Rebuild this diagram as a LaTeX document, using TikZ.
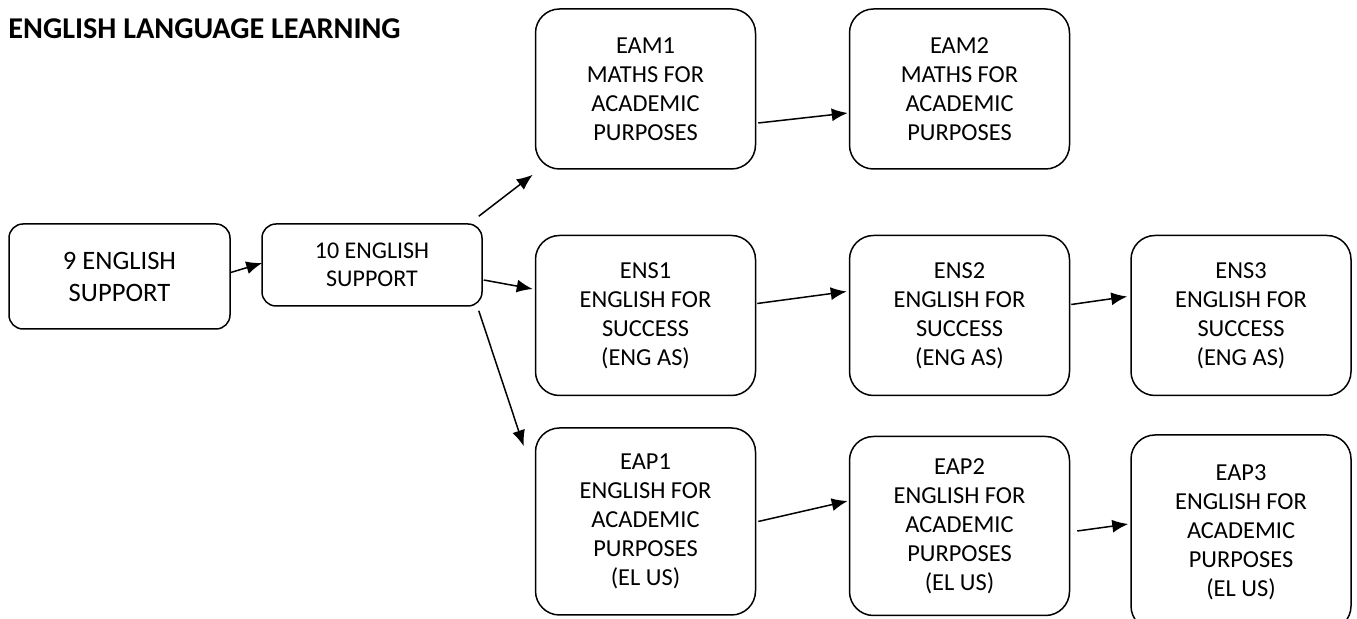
\documentclass[tikz,border=0pt]{standalone}
\usepackage{fontspec}
\setmainfont{Carlito}
\usepackage{tikz}
\usetikzlibrary{arrows.meta}
\usetikzlibrary{calc}

\begin{document}
\begin{tikzpicture}[
  x=0.5pt,y=-0.5pt,
  ->,>={Latex[length=8pt,width=6.5pt]},line width=0.75pt,
  course/.style={draw,rectangle,rounded corners=12pt,minimum width=110pt,minimum height=80pt,align=center,inner sep=0pt,font=\fontsize{12.2}{14.5}\selectfont},
  support/.style={course,rounded corners=7pt,minimum width=110.5pt}]
      \useasboundingbox (0,0) rectangle (1357,619);

      \node [anchor=west,font=\bfseries\fontsize{15.1}{18}\selectfont] (title) at (1,29) {ENGLISH LANGUAGE LEARNING};

      % year 9 and 10
      \node [support,minimum height=52.5pt,font=\fontsize{13.3}{16}\selectfont] (nine) at (119.5,276.5) {9 ENGLISH\\SUPPORT};
      \node [support,minimum height=41pt,minimum width=110pt,font=\fontsize{12}{14}\selectfont] (ten) at (372,265) {10 ENGLISH\\SUPPORT};

      % maths row
      \node [course] (eam1) at (645.5,89) {EAM1\\MATHS FOR\\ACADEMIC\\PURPOSES};
      \node [course] (eam2) at (959.5,89) {EAM2\\MATHS FOR\\ACADEMIC\\PURPOSES};

      % success row
      \node [course] (ens1) at (645.5,315.5) {ENS1\\ENGLISH FOR\\SUCCESS\\(ENG AS)};
      \node [course] (ens2) at (959.5,315.5) {ENS2\\ENGLISH FOR\\SUCCESS\\(ENG AS)};
      \node [course] (ens3) at (1241,315.5) {ENS3\\ENGLISH FOR\\SUCCESS\\(ENG AS)};

      % academic row
      \node [course,minimum height=93.5pt] (eap1) at (645.5,521.5) {EAP1\\ENGLISH FOR\\ACADEMIC\\PURPOSES\\(EL US)};
      \node [course,minimum height=89.5pt] (eap2) at (959.5,526) {EAP2\\ENGLISH FOR\\ACADEMIC\\PURPOSES\\(EL US)};
      \node [course,minimum height=97.5pt] (eap3) at (1241,532.5) {EAP3\\ENGLISH FOR\\ACADEMIC\\PURPOSES\\(EL US)};

      \draw ($(nine.east)+(0,-4)$) -- ($(ten.west)+(1,-2)$);
      \draw ($(ten.north east)+(-4,-7)$) -- ($(eam1.south west)+(-2,5)$);
      \draw ($(ten.east)+(1,15)$) -- ($(ens1.west)+(-2,-26.5)$);
      \draw ($(ten.south east)+(-4,4)$) -- ($(eap1.north west)+(-11,19)$);

      \draw ($(eam1.east)+(2,34)$) -- ($(eam2.west)+(-1,24)$);
      \draw ($(ens1.east)+(1,-12)$) -- ($(ens2.west)+(-2,-24)$);
      \draw ($(ens2.east)+(1,-11)$) -- ($(ens3.west)+(-3,-19)$);
      \draw ($(eap1.east)+(2,0)$) -- ($(eap2.west)+(-1,-25)$);
      \draw ($(eap2.east)+(7,5)$) -- ($(eap3.west)+(-2,-8.5)$);

  \end{tikzpicture}
\end{document}
